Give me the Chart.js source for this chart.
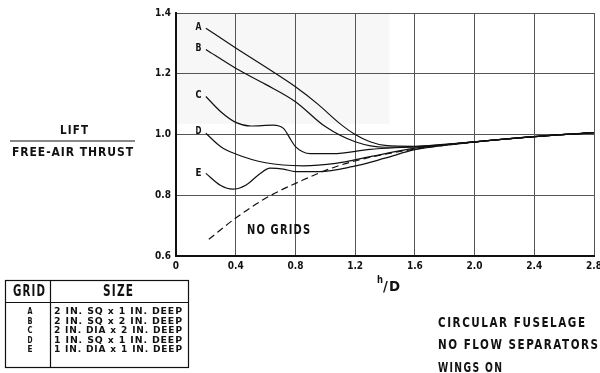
<!DOCTYPE html>
<html>
<head>
<meta charset="utf-8">
<script src="https://cdn.jsdelivr.net/npm/chart.js@4"></script>
<style>
  html, body { margin: 0; padding: 0; background: #fff; }
  #wrap { width: 600px; height: 373px; }
</style>
</head>
<body>
<div id="wrap"><canvas id="lift-chart" width="600" height="373"></canvas></div>
<script>
// h/D values and lift / free-air thrust for each grid
const xA = [0.2, 0.4, 0.6, 0.8, 0.95, 1.1, 1.2, 1.3, 1.4, 1.6, 2.0, 2.4, 2.8];
const yA = [1.35, 1.285, 1.222, 1.157, 1.1, 1.035, 1.0, 0.976, 0.964, 0.961, 0.976, 0.993, 1.006];

const xB = [0.2, 0.4, 0.6, 0.8, 1.0, 1.2, 1.4, 1.6, 2.0, 2.4, 2.8];
const yB = [1.28, 1.218, 1.165, 1.108, 1.026, 0.976, 0.958, 0.959, 0.976, 0.993, 1.006];

const xC = [0.2, 0.3, 0.4, 0.5, 0.65, 0.72, 0.77, 0.8, 0.9, 1.05, 1.3, 1.6, 2.0, 2.4, 2.8];
const yC = [1.125, 1.075, 1.04, 1.028, 1.031, 1.02, 0.982, 0.96, 0.937, 0.937, 0.951, 0.96, 0.976, 0.993, 1.006];

const xD = [0.2, 0.3, 0.4, 0.6, 0.85, 1.07, 1.3, 1.6, 2.0, 2.4, 2.8];
const yD = [1.004, 0.96, 0.936, 0.907, 0.897, 0.905, 0.927, 0.955, 0.976, 0.993, 1.006];

const xE = [0.2, 0.3, 0.38, 0.47, 0.56, 0.63, 0.72, 0.8, 0.96, 1.18, 1.4, 1.6, 2.0, 2.4, 2.8];
const yE = [0.872, 0.832, 0.82, 0.834, 0.87, 0.889, 0.886, 0.878, 0.878, 0.894, 0.922, 0.95, 0.975, 0.993, 1.006];

const xNo = [0.22, 0.4, 0.6, 0.85, 1.07, 1.3, 1.6, 2.0, 2.4, 2.8];
const yNo = [0.655, 0.725, 0.79, 0.85, 0.894, 0.925, 0.952, 0.975, 0.993, 1.006];

const xTicks = [0, 0.4, 0.8, 1.2, 1.6, 2.0, 2.4, 2.8];
const yTicks = [0.6, 0.8, 1.0, 1.2, 1.4];

const gridNames = ['A', 'B', 'C', 'D', 'E'];
const gridSizes = [
    '2 IN. SQ x 1 IN. DEEP',
    '2 IN. SQ x 2 IN. DEEP',
    '2 IN. DIA x 2 IN. DEEP',
    '1 IN. SQ x 1 IN. DEEP',
    '1 IN. DIA x 1 IN. DEEP'
];
const notes = ['CIRCULAR FUSELAGE', 'NO FLOW SEPARATORS', 'WINGS ON'];

const FONT = '"DejaVu Sans Condensed", "DejaVu Sans", sans-serif';

function pts(xs, ys) {
    return xs.map((x, i) => ({ x: x, y: ys[i] }));
}

function curve(label, xs, ys, dash) {
    return {
        label: label,
        data: pts(xs, ys),
        borderColor: '#111',
        borderWidth: 1.2,
        borderDash: dash || [],
        pointRadius: 0,
        fill: false,
        cubicInterpolationMode: 'monotone'
    };
}

// draw tall narrow lettering squeezed to a given width
function fitText(c, text, x, y, w, size, center, spacing) {
    c.font = 'bold ' + size + 'px ' + FONT;
    c.letterSpacing = (spacing || 0) + 'px';
    const m = c.measureText(text).width - (spacing || 0);
    c.save();
    c.translate(center ? x - w / 2 : x, y);
    c.scale(w / m, 1);
    c.textAlign = 'left';
    c.fillText(text, 0, 0);
    c.restore();
}

// labels, table and notes drawn on the canvas
const annotations = {
    id: 'annotations',
    beforeDraw(chart) {
        const c = chart.ctx, xs = chart.scales.x, ys = chart.scales.y;
        c.save();
        c.fillStyle = '#f7f7f7';
        c.fillRect(xs.getPixelForValue(0), ys.getPixelForValue(1.4),
            xs.getPixelForValue(1.43) - xs.getPixelForValue(0),
            ys.getPixelForValue(1.035) - ys.getPixelForValue(1.4));
        c.restore();
    },
    afterDraw(chart) {
        const c = chart.ctx, xs = chart.scales.x, ys = chart.scales.y;
        c.save();
        c.fillStyle = '#111';
        c.strokeStyle = '#111';
        c.textBaseline = 'middle';

        // curve letters
        const letterY = [1.352, 1.283, 1.128, 1.012, 0.873];
        gridNames.forEach((g, i) => {
            fitText(c, g, xs.getPixelForValue(0.15), ys.getPixelForValue(letterY[i]), 6, 11, true);
        });
        fitText(c, 'NO GRIDS', 247, 230, 63, 14, false, 1.5);

        // y title
        fitText(c, 'LIFT', 74, 131, 28, 12.5, true, 1.2);
        fitText(c, 'FREE-AIR THRUST', 12, 153, 121, 13, false, 1);
        c.lineWidth = 1;
        c.beginPath(); c.moveTo(10, 141); c.lineTo(135, 141); c.stroke();

        // x title h/D
        fitText(c, 'h', 377, 280, 6, 10);
        fitText(c, '/D', 383, 287, 17, 14, false, 1);

        // grid table
        c.lineWidth = 1.2;
        c.strokeRect(5.5, 280.5, 183, 87);
        c.beginPath();
        c.moveTo(5, 302.5); c.lineTo(189, 302.5);
        c.moveTo(50.5, 280); c.lineTo(50.5, 368);
        c.stroke();
        fitText(c, 'GRID', 29, 292, 32, 15, true, 1.5);
        fitText(c, 'SIZE', 118, 292, 30, 15, true, 1.5);
        gridNames.forEach((g, i) => {
            const y = 312 + i * 9.5;
            fitText(c, g, 30, y, 5, 9.5, true);
            fitText(c, gridSizes[i], 118, y, 128, 9.5, true, 0.8);
        });

        // notes
        const noteW = [147, 160, 64];
        notes.forEach((t, i) => fitText(c, t, 438, 323 + i * 22.5, noteW[i], 13.5, false, 1.8));
        c.restore();
    }
};

const ctx = document.getElementById('lift-chart').getContext('2d');
const liftChart = new Chart(ctx, {
    type: 'line',
    data: {
        datasets: [
            curve('A', xA, yA),
            curve('B', xB, yB),
            curve('C', xC, yC),
            curve('D', xD, yD),
            curve('E', xE, yE),
            curve('NO GRIDS', xNo, yNo, [7, 4])
        ]
    },
    options: {
        responsive: false,
        animation: false,
        layout: { padding: { top: 13, right: 6, bottom: 97, left: 0 } },
        plugins: { legend: { display: false }, tooltip: { enabled: false } },
        scales: {
            x: {
                type: 'linear',
                min: 0, max: 2.8,
                afterBuildTicks: s => { s.ticks = xTicks.map(v => ({ value: v })); },
                afterFit: s => { s.height = 20; s.paddingLeft = 0; s.paddingRight = 0; },
                grid: { color: '#555', lineWidth: 1, drawTicks: false },
                border: { color: '#111', width: 2 },
                ticks: {
                    padding: 4,
                    color: '#111',
                    font: { family: FONT, size: 10, weight: 'bold' },
                    maxRotation: 0,
                    callback: v => v === 0 ? '0' : v.toFixed(1)
                }
            },
            y: {
                min: 0.6, max: 1.4,
                afterBuildTicks: s => { s.ticks = yTicks.map(v => ({ value: v })); },
                afterFit: s => { s.width = 176; s.paddingTop = 0; s.paddingBottom = 0; },
                grid: { color: '#555', lineWidth: 1, drawTicks: false },
                border: { color: '#111', width: 2 },
                ticks: {
                    padding: 5,
                    color: '#111',
                    font: { family: FONT, size: 10, weight: 'bold' },
                    callback: v => v.toFixed(1)
                }
            }
        }
    },
    plugins: [annotations]
});
</script>
</body>
</html>
